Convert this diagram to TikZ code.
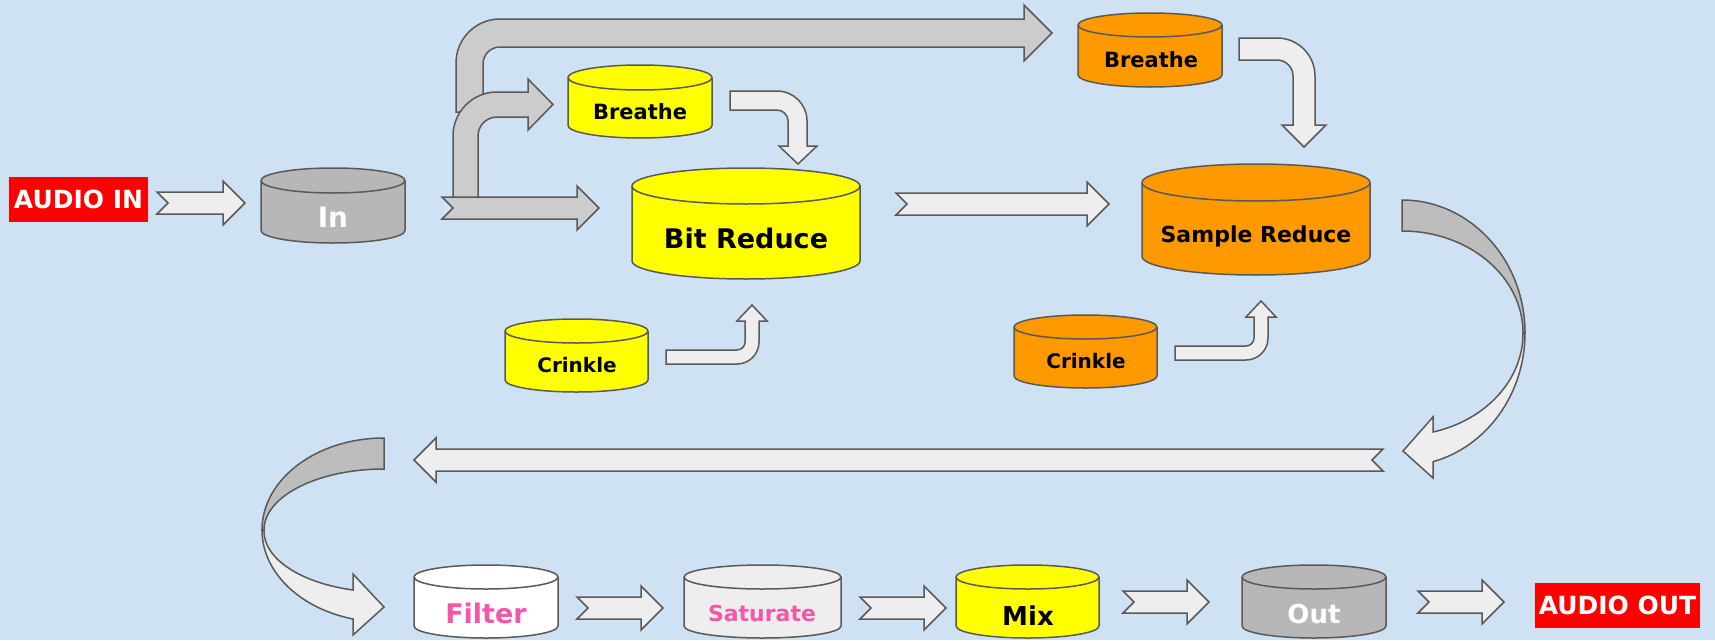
\documentclass[tikz,border=0pt]{standalone}
\usepackage{fontspec}
\setmainfont{DejaVu Sans}
\definecolor{bgblue}{HTML}{CFE2F3}
\definecolor{edge}{HTML}{595959}
\definecolor{agray}{HTML}{CCCCCC}
\definecolor{alight}{HTML}{EEEEEE}
\definecolor{twist}{HTML}{BDBDBD}
\definecolor{dgray}{HTML}{B7B7B7}
\definecolor{dyellow}{HTML}{FFFF00}
\definecolor{dorange}{HTML}{FF9900}
\definecolor{pinktxt}{HTML}{F556A8}
\definecolor{boxred}{HTML}{FF0000}
\tikzset{
  outl/.style={draw=edge, line width=1.5pt},
  lbl/.style={anchor=base, inner sep=0pt, font=\bfseries\fontsize{#1}{#1}\selectfont},
  redbox/.style={fill=boxred, text=white, inner sep=0pt, font=\bfseries\fontsize{25}{25}\selectfont}
}
\newcommand{\drum}[6]{%
  \pgfmathsetmacro{\drumrx}{(#3-#2)/2}
  \filldraw[outl, fill=#1] (#2,#4) -- (#2,#5) arc[start angle=180, end angle=0, x radius=\drumrx, y radius=#6] -- (#3,#4) arc[start angle=0, end angle=-180, x radius=\drumrx, y radius=#6] -- cycle;
  \draw[outl] (#2,#4) arc[start angle=180, end angle=0, x radius=\drumrx, y radius=#6];
}
\newcommand{\rblk}[4]{%
  \filldraw[outl, fill=#1] (#2,#4-11) -- (#3-22,#4-11) -- (#3-22,#4-22) -- (#3,#4) -- (#3-22,#4+22) -- (#3-22,#4+11) -- (#2,#4+11) -- (#2+11,#4) -- cycle;
}
\newcommand{\lblk}[4]{%
  \filldraw[outl, fill=#1] (#2,#4-11) -- (#3+22,#4-11) -- (#3+22,#4-22) -- (#3,#4) -- (#3+22,#4+22) -- (#3+22,#4+11) -- (#2,#4+11) -- (#2-11,#4) -- cycle;
}
\begin{document}
\begin{tikzpicture}[x=1pt, y=-1pt]
    \fill[bgblue] (0,0) rectangle (1715,640);

    \node[redbox, minimum width=139, minimum height=45] (audioin) at (78.5,199.5) {AUDIO IN};
    \rblk{alight}{157}{245}{203}
    \drum{dgray}{261}{405}{180.5}{230.5}{12.5}
    \node[lbl=28, text=white] (in) at (333,227) {In};

    \filldraw[outl, fill=agray] (456,112) -- (456,63) arc[start angle=180, end angle=270, radius=44] -- (1024,19) -- (1024,5) -- (1052,33) -- (1024,61) -- (1024,47) -- (500,47) arc[start angle=270, end angle=180, radius=17] -- (483,112) -- cycle;
    \filldraw[outl, fill=agray] (453,205) -- (453,136) arc[start angle=180, end angle=270, radius=44] -- (528,92) -- (528,79) -- (553,104.5) -- (528,130) -- (528,117) -- (497,117) arc[start angle=270, end angle=180, radius=19] -- (478,205) -- cycle;
    \rblk{agray}{442}{599}{208}

    \drum{dyellow}{568}{712}{77.5}{125.5}{12.5}
    \node[lbl=21] (breathe1) at (640,119) {Breathe};
    \filldraw[outl, fill=alight] (730,91) -- (777,91) arc[start angle=270, end angle=360, radius=30] -- (807,146) -- (817,146) -- (798,164) -- (779,146) -- (788,146) -- (788,121) arc[start angle=0, end angle=-90, radius=11] -- (730,110) -- cycle;

    \drum{dyellow}{632}{860}{186}{261}{18}
    \node[lbl=27] (bitred) at (746,248) {Bit Reduce};

    \drum{dyellow}{505}{648}{331}{380}{12}
    \node[lbl=20] (crinkle1) at (577,372) {Crinkle};
    \filldraw[outl, fill=alight] (666,350) -- (737,350) arc[start angle=90, end angle=0, radius=8] -- (745,321) -- (737,321) -- (752,305) -- (767,321) -- (759,321) -- (759,342) arc[start angle=0, end angle=90, radius=22] -- (666,364) -- cycle;

    \rblk{alight}{896}{1109}{204}

    \drum{dorange}{1078}{1222}{25}{75}{12}
    \node[lbl=21] (breathe2) at (1151,67) {Breathe};
    \filldraw[outl, fill=alight] (1239,38) -- (1277,38) arc[start angle=270, end angle=360, radius=38] -- (1315,125) -- (1326,125) -- (1304,147) -- (1282,125) -- (1293,125) -- (1293,76) arc[start angle=0, end angle=-90, radius=16] -- (1239,60) -- cycle;

    \drum{dorange}{1142}{1370}{182.5}{256.5}{18.5}
    \node[lbl=22] (samred) at (1256,242) {Sample Reduce};

    \drum{dorange}{1014}{1157}{327}{376}{12}
    \node[lbl=20] (crinkle2) at (1086,368) {Crinkle};
    \filldraw[outl, fill=alight, shift={(509,-4)}] (666,350) -- (737,350) arc[start angle=90, end angle=0, radius=8] -- (745,321) -- (737,321) -- (752,305) -- (767,321) -- (759,321) -- (759,342) arc[start angle=0, end angle=90, radius=22] -- (666,364) -- cycle;

    \filldraw[outl, fill=twist] (1402,200) arc[start angle=-90, end angle=0, x radius=123, y radius=133] -- (1523,333) arc[start angle=0, end angle=-90, x radius=121, y radius=102] -- cycle;
    \filldraw[outl, fill=alight] (1525,333) arc[start angle=0, end angle=75.4, x radius=123, y radius=133] -- (1433,478) -- (1403,451) -- (1433,417) -- (1433,432) arc[start angle=75.16, end angle=0, x radius=121, y radius=102] -- cycle;

    \lblk{alight}{1383}{414}{460}

    \filldraw[outl, fill=twist] (384,438) arc[start angle=-90, end angle=-180, x radius=122, y radius=92] -- (264,530) arc[start angle=-180, end angle=-90, x radius=120, y radius=61] -- cycle;
    \filldraw[outl, fill=alight] (262,530) arc[start angle=180, end angle=104.7, x radius=122, y radius=92] -- (353,635) -- (384,607) -- (353,574) -- (353,590) arc[start angle=104.95, end angle=180, x radius=120, y radius=61] -- cycle;

    \drum{white}{414}{558}{577}{626}{12}
    \node[lbl=27, text=pinktxt] (filter) at (486,623) {Filter};
    \rblk{alight}{577}{663}{608}
    \drum{alight}{684}{841}{577}{626}{12}
    \node[lbl=22, text=pinktxt] (saturate) at (762,621) {Saturate};
    \rblk{alight}{860}{946}{608}
    \drum{dyellow}{956}{1099}{577}{626}{12}
    \node[lbl=26] (mix) at (1028,625) {Mix};
    \rblk{alight}{1123}{1209}{602}
    \drum{dgray}{1242}{1386}{577}{626}{12}
    \node[lbl=26, text=white] (out) at (1314,623) {Out};
    \rblk{alight}{1418}{1504}{602}
    \node[redbox, minimum width=165, minimum height=45] (audioout) at (1617.5,605.5) {AUDIO OUT};
\end{tikzpicture}
\end{document}
